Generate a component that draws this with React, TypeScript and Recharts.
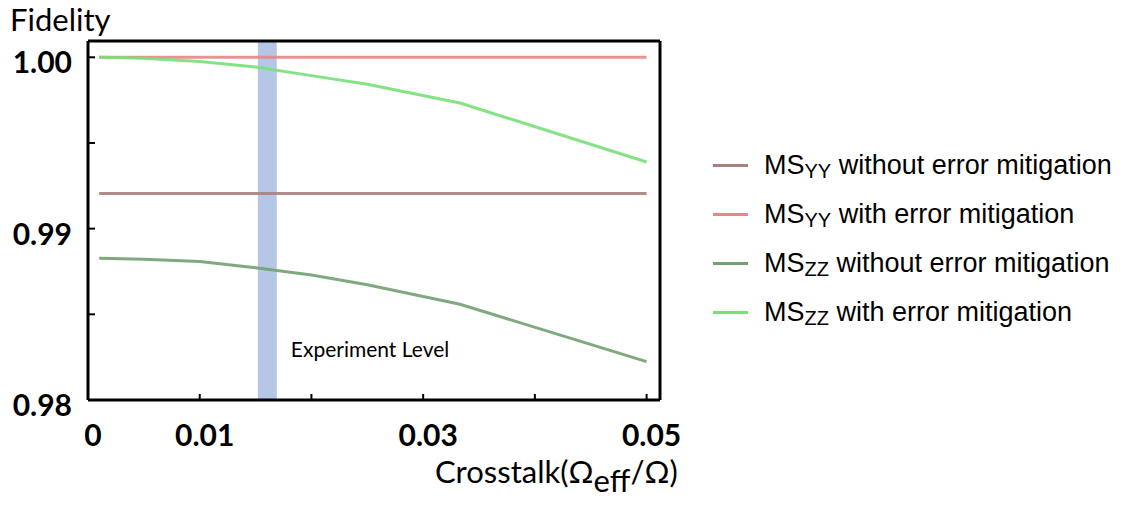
import React from 'react';
import {
  LineChart,
  Line,
  XAxis,
  YAxis,
  ReferenceArea,
  ReferenceLine,
} from 'recharts';

const crosstalk = [0.001, 0.005, 0.01, 0.015, 0.02, 0.025, 0.0333, 0.05];
const yyWithout = [0.99205, 0.99205, 0.99205, 0.99205, 0.99205, 0.99205, 0.99205, 0.99205];
const yyWith = [1.0, 1.0, 1.0, 1.0, 1.0, 1.0, 1.0, 1.0];
const zzWithout = [0.98827, 0.98822, 0.98808, 0.98772, 0.9873, 0.98672, 0.98559, 0.98224];
const zzWith = [1.0, 0.99995, 0.99976, 0.99943, 0.99893, 0.99843, 0.99733, 0.99389];

const xTicks = [0, 0.01, 0.02, 0.03, 0.04, 0.05];
const xTickLabels = ['0', '0.01', '', '0.03', '', '0.05'];
const yTicks = [0.98, 0.985, 0.99, 0.995, 1.0];
const yTickLabels = ['0.98', '', '0.99', '', '1.00'];

const xDomain = [0, 0.0512];
const yDomain = [0.98, 1.00095];
const experimentBand = [0.0152, 0.0169];

const series = [
  { key: 'yyWithout', base: 'MS', sub: 'YY', rest: ' without error mitigation', color: '#a98080' },
  { key: 'yyWith', base: 'MS', sub: 'YY', rest: ' with error mitigation', color: '#e88686' },
  { key: 'zzWithout', base: 'MS', sub: 'ZZ', rest: ' without error mitigation', color: '#72a072' },
  { key: 'zzWith', base: 'MS', sub: 'ZZ', rest: ' with error mitigation', color: '#78e078' },
];

const data = crosstalk.map((x, i) => ({
  x,
  yyWithout: yyWithout[i],
  yyWith: yyWith[i],
  zzWithout: zzWithout[i],
  zzWith: zzWith[i],
}));

const calibri = 'Lato, "Open Sans", sans-serif';

const XTick = (props: any) => {
  const { x, y, index } = props;
  return (
    <g>
      <line x1={x} x2={x} y1={y} y2={y - 6} stroke="#000" strokeWidth={2} />
      <text x={x + 5} y={y + 46} textAnchor="middle" fontFamily={calibri} fontWeight={700} fontSize={30} fill="#000">
        {xTickLabels[index]}
      </text>
    </g>
  );
};

const YTick = (props: any) => {
  const { x, y, index } = props;
  return (
    <g>
      <line x1={x} x2={x + 7} y1={y} y2={y} stroke="#000" strokeWidth={2} />
      <text x={x - 16} y={y + 16} textAnchor="end" fontFamily={calibri} fontWeight={700} fontSize={30} fill="#000">
        {yTickLabels[index]}
      </text>
    </g>
  );
};

const BandLabel = (props: any) => {
  const vb = props.viewBox || {};
  return (
    <text x={vb.x + vb.width + 14} y={357} fontFamily={calibri} fontSize={21} fill="#000">
      Experiment Level
    </text>
  );
};

export default function App() {
  return (
    <div style={{ position: 'absolute', left: 0, top: 0, width: 1135, height: 505, background: '#fff' }}>
      <LineChart width={1135} height={505} data={data} margin={{ top: 41, right: 475, left: 0, bottom: 0 }}>
        <XAxis
          dataKey="x"
          type="number"
          domain={xDomain}
          ticks={xTicks}
          allowDataOverflow
          height={105}
          tickSize={0}
          tickMargin={0}
          tickLine={false}
          axisLine={{ stroke: '#000', strokeWidth: 3 }}
          tick={<XTick />}
        />
        <YAxis
          type="number"
          domain={yDomain}
          ticks={yTicks}
          allowDataOverflow
          width={88}
          tickSize={0}
          tickMargin={0}
          tickLine={false}
          axisLine={{ stroke: '#000', strokeWidth: 3 }}
          tick={<YTick />}
        />
        <ReferenceArea
          x1={experimentBand[0]}
          x2={experimentBand[1]}
          y1={yDomain[0]}
          y2={yDomain[1]}
          fill="#b4c7e7"
          fillOpacity={1}
          stroke="none"
          label={<BandLabel />}
        />
        {series.map((s) => (
          <Line
            key={s.key}
            dataKey={s.key}
            type="linear"
            stroke={s.color}
            strokeWidth={3}
            strokeOpacity={0.9}
            dot={false}
            activeDot={false}
            isAnimationActive={false}
          />
        ))}
        <ReferenceLine y={yDomain[1]} stroke="#000" strokeWidth={3} />
        <ReferenceLine x={xDomain[1]} stroke="#000" strokeWidth={3} />
      </LineChart>

      <div style={{ position: 'absolute', left: 10, top: 0, fontFamily: calibri, fontSize: 31, color: '#000' }}>
        Fidelity
      </div>

      <div style={{ position: 'absolute', left: 435, top: 452, fontFamily: calibri, fontSize: 31, color: '#000', whiteSpace: 'nowrap' }}>
        Crosstalk(Ω<sub style={{ fontSize: '1em', verticalAlign: '-0.3em' }}>eff</sub>/Ω)
      </div>

      <div style={{ position: 'absolute', left: 713, top: 141, fontFamily: '"Liberation Sans", Arial, sans-serif', fontSize: 27, color: '#000' }}>
        {series.map((s) => (
          <div key={s.key} style={{ display: 'flex', alignItems: 'center', height: 49, whiteSpace: 'nowrap' }}>
            <span style={{ display: 'inline-block', width: 35, height: 3, background: s.color, marginRight: 16 }} />
            <span>
              {s.base}
              <span style={{ fontSize: 20, position: 'relative', top: 4 }}>{s.sub}</span>
              {s.rest}
            </span>
          </div>
        ))}
      </div>
    </div>
  );
}
